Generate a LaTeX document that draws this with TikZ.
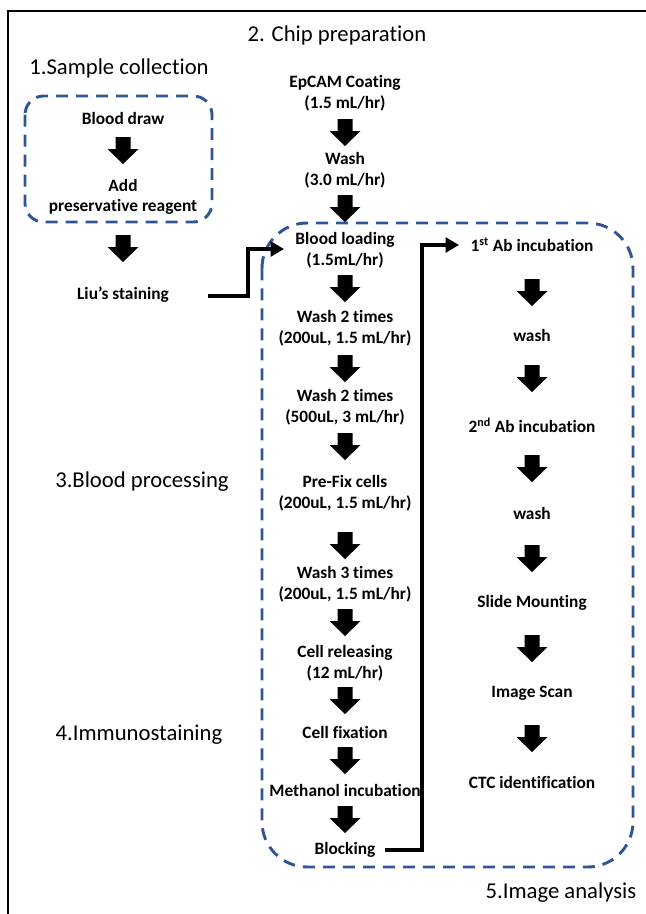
\documentclass[tikz,border=0pt]{standalone}
\usepackage{fontspec}
\setmainfont[Ligatures=NoCommon]{Carlito}
\usetikzlibrary{arrows.meta}
\definecolor{dblue}{RGB}{47,85,151}
\begin{document}
\begin{tikzpicture}[x=0.75pt,y=-0.75pt,
  stepnode/.style={font=\bfseries\fontsize{13pt}{15.4pt}\selectfont,align=center,inner sep=0pt},
  sectlabel/.style={font=\fontsize{17pt}{20pt}\selectfont,inner sep=0pt},
  groupbox/.style={draw=dblue,line width=2.2pt,dash pattern=on 9pt off 6pt},
  elbow/.style={line width=3pt,-{Triangle[length=10pt,width=11pt]}},
  blkarrow/.pic={\fill (-7.5,0) -- (7.5,0) -- (7.5,12) -- (15.5,12) -- (0,27) -- (-15.5,12) -- (-7.5,12) -- cycle;}
]
\useasboundingbox (0,0) rectangle (646,914);
% frame
\draw[line width=1.5pt] (8,914) -- (8,11) -- (646,11);

% group boxes
\draw[groupbox,rounded corners=14pt] (25,96) rectangle (212,222);
\draw[groupbox,rounded corners=34pt] (262,223) rectangle (633,867);

% section labels
\node[sectlabel] (s2) at (337,35) {2. Chip preparation};
\node[sectlabel] (s1) at (119,68) {1.Sample collection};
\node[sectlabel] (s3) at (142,482) {3.Blood processing};
\node[sectlabel] (s4) at (139,735) {4.Immunostaining};
\node[sectlabel] (s5) at (561,893) {5.Image analysis};

% column A
\node[stepnode] (bd) at (123,118) {Blood draw};
\node[stepnode] (add) at (123,197) {Add\\preservative reagent};
\node[stepnode] (liu) at (123,295) {Liu’s staining};

% column B
\node[stepnode] (ep) at (345,93) {EpCAM Coating\\(1.5 mL/hr)};
\node[stepnode] (w0) at (345,170) {Wash\\(3.0 mL/hr)};
\node[stepnode] (bl) at (345,250) {Blood loading\\(1.5mL/hr)};
\node[stepnode] (w1) at (345,328) {Wash 2 times\\(200uL, 1.5 mL/hr)};
\node[stepnode] (w2) at (345,407) {Wash 2 times\\(500uL, 3 mL/hr)};
\node[stepnode] (pf) at (345,493) {Pre-Fix cells\\(200uL, 1.5 mL/hr)};
\node[stepnode] (w3) at (345,584) {Wash 3 times\\(200uL, 1.5 mL/hr)};
\node[stepnode] (cr) at (345,663) {Cell releasing\\(12 mL/hr)};
\node[stepnode] (cf) at (345,732) {Cell fixation};
\node[stepnode] (mi) at (345,790) {Methanol incubation};
\node[stepnode] (bk) at (345,850) {Blocking};

% column C
\node[stepnode] (ab1) at (532,245) {1\textsuperscript{st} Ab incubation};
\node[stepnode] (wa1) at (532,335) {wash};
\node[stepnode] (ab2) at (532,425) {2\textsuperscript{nd} Ab incubation};
\node[stepnode] (wa2) at (532,513) {wash};
\node[stepnode] (sm) at (532,603) {Slide Mounting};
\node[stepnode] (is) at (532,693) {Image Scan};
\node[stepnode] (ctc) at (532,782) {CTC identification};

% block arrows
\foreach \yy in {137,235} \pic at (123,\yy) {blkarrow};
\foreach \yy in {119,195,275,355,433,532,609,687,747,806} \pic at (345,\yy) {blkarrow};
\foreach \yy in {279,365,455,545,635,725} \pic at (532,\yy) {blkarrow};

% elbow connectors
\coordinate (liuout) at (208,296);
\coordinate (blin) at (284,249);
\draw[elbow] (liuout) -- (248,296) |- (blin);
\coordinate (bkout) at (385,850);
\coordinate (ab1in) at (459,245);
\draw[elbow] (bkout) -- (422,850) |- (ab1in);
\end{tikzpicture}
\end{document}
